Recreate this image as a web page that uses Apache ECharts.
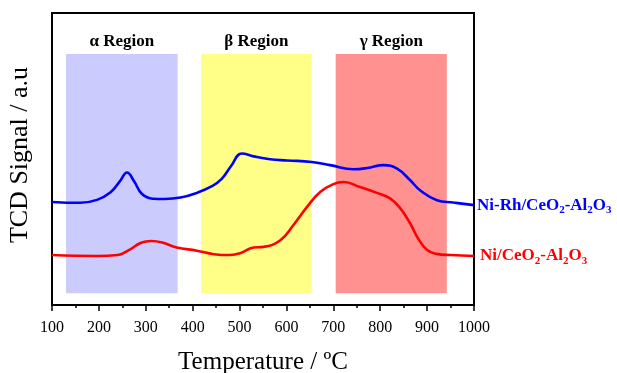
<!DOCTYPE html>
<html>
<head>
<meta charset="utf-8">
<script src="https://cdn.jsdelivr.net/npm/echarts@6/dist/echarts.min.js"></script>
<style>
  html, body { margin: 0; padding: 0; background: #fff; }
  #chart { width: 617px; height: 373px; }
</style>
</head>
<body>
<div id="chart"></div>
<script>
// TPR profiles (TCD signal, arbitrary units) versus temperature (°C)
const niRhTemp = [100, 160, 196, 225, 245, 260, 275, 292, 315, 340, 374, 409, 440, 462, 482, 505, 530, 565, 601, 654, 693, 743, 772, 807, 836, 864, 885, 921, 956, 1000];
const niRhSignal = [35.3, 35.0, 36.0, 38.6, 42.4, 45.4, 42.4, 38.0, 36.4, 36.3, 36.8, 38.4, 40.6, 43.2, 47.6, 51.9, 50.9, 49.9, 49.5, 49.0, 47.9, 46.5, 46.9, 47.9, 46.7, 42.7, 39.3, 35.9, 35.1, 34.2];

const niTemp = [100, 196, 240, 262, 290, 312, 335, 366, 409, 445, 480, 501, 530, 551, 587, 615, 644, 672, 700, 722, 757, 793, 821, 843, 864, 880, 900, 920, 950, 1000];
const niSignal = [17.1, 16.8, 17.1, 18.6, 21.3, 21.9, 21.4, 19.7, 18.6, 17.4, 17.1, 17.7, 19.7, 19.9, 22.2, 27.4, 33.6, 38.7, 41.4, 42.1, 40.4, 38.4, 36.5, 33.1, 27.9, 23.0, 18.8, 17.5, 17.1, 16.8];

// Reduction regions: name, start °C, end °C
const regionNames = ['α Region', 'β Region', 'γ Region'];
const regionStart = [130, 418, 705];
const regionEnd = [368, 654, 942];
const regionColors = ['#CBCBFD', '#FFFF88', '#FF9191'];
const regionBottom = 4;
const regionTop = 86;

const xTicks = [100, 200, 300, 400, 500, 600, 700, 800, 900, 1000];

const serif = '"Liberation Serif", "Times New Roman", serif';

const pairs = (xs, ys) => xs.map((x, i) => [x, ys[i]]);

const richSub = {
  b: { fontFamily: serif, fontWeight: 'bold', fontSize: 17 },
  s: { fontFamily: serif, fontWeight: 'bold', fontSize: 11, padding: [10, 0, 0, 0] }
};

const chart = echarts.init(document.getElementById('chart'));
chart.setOption({
  animation: false,
  grid: {
    left: 52, right: 143, top: 13, bottom: 68,
    containLabel: false, outerBoundsMode: 'none',
    show: true, borderColor: '#000', borderWidth: 2, backgroundColor: 'transparent'
  },
  xAxis: {
    type: 'value', min: xTicks[0], max: xTicks[xTicks.length - 1], interval: 100,
    name: 'Temperature / ºC', nameLocation: 'middle', nameGap: 45,
    nameTextStyle: { fontFamily: serif, fontSize: 25, color: '#000' },
    axisLine: { lineStyle: { color: '#000', width: 2 } },
    axisTick: { inside: false, length: 6, lineStyle: { color: '#000', width: 1.5 } },
    minorTick: { show: true, splitNumber: 2, length: 3, lineStyle: { color: '#000', width: 1.5 } },
    axisLabel: {
      fontFamily: serif, fontSize: 16, color: '#000', margin: 15,
      formatter: (v) => String(v)
    },
    splitLine: { show: false }
  },
  yAxis: {
    type: 'value', min: 0, max: 100,
    name: 'TCD Signal / a.u', nameLocation: 'middle', nameGap: 19,
    nameTextStyle: { fontFamily: serif, fontSize: 26, color: '#000', padding: [0, 0, 0, 8] },
    axisLine: { show: true, lineStyle: { color: '#000', width: 2 } },
    axisTick: { show: false },
    axisLabel: { show: false },
    splitLine: { show: false }
  },
  series: [
    {
      type: 'line',
      data: [],
      silent: true,
      markArea: {
        silent: true,
        data: regionNames.map((name, i) => [
          {
            name: name,
            xAxis: regionStart[i], yAxis: regionTop,
            itemStyle: { color: regionColors[i], opacity: 1 }
          },
          { xAxis: regionEnd[i], yAxis: regionBottom }
        ]),
        label: {
          show: true, position: 'top', distance: 4,
          fontFamily: serif, fontWeight: 'bold', fontSize: 17, color: '#000'
        }
      }
    },
    {
      name: 'Ni-Rh/CeO2-Al2O3',
      type: 'line',
      data: pairs(niRhTemp, niRhSignal),
      smooth: 0.45,
      symbol: 'none',
      lineStyle: { color: '#0000FF', width: 2.6 },
      endLabel: {
        show: true, distance: 3, color: '#0000FF',
        formatter: '{b|Ni-Rh/CeO}{s|2}{b|-Al}{s|2}{b|O}{s|3}',
        rich: richSub
      }
    },
    {
      name: 'Ni/CeO2-Al2O3',
      type: 'line',
      data: pairs(niTemp, niSignal),
      smooth: 0.45,
      symbol: 'none',
      lineStyle: { color: '#FF0000', width: 2.6 },
      endLabel: {
        show: true, distance: 6, color: '#FF0000',
        formatter: '{b|Ni/CeO}{s|2}{b|-Al}{s|2}{b|O}{s|3}',
        rich: richSub
      }
    }
  ]
});
</script>
</body>
</html>
